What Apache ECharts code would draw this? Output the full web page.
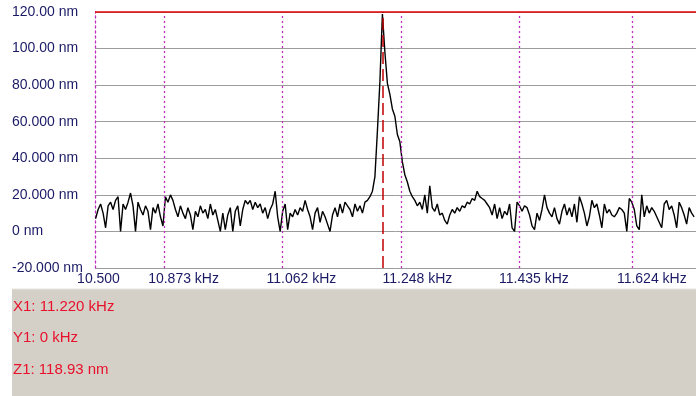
<!DOCTYPE html>
<html>
<head>
<meta charset="utf-8">
<script src="https://cdn.jsdelivr.net/npm/echarts@6/dist/echarts.min.js"></script>
<style>html,body{margin:0;padding:0;background:#fff;}#c{width:696px;height:396px;}</style>
</head>
<body>
<div id="c"></div>
<script>
// Sampling grid of the trace (kHz)
const freqStart = 10.760;
const freqStep = 0.004;
// Amplitude (nm)
const amplitudeNm = [
  7,12,15,10,2,14,16,12,17,19,
  0,15,12,16,21,14,0,16,12,9,
  14,11,1,13,10,15,8,3,19,16,
  20,17,12,8,14,10,7,13,9,1,
  11,8,14,10,12,7,15,9,12,6,
  0,10,1,9,13,0,11,14,3,12,
  17,15,17,12,16,13,15,10,13,7,
  12,15,22,8,0,11,15,1,10,8,
  12,9,13,11,17,12,8,1,10,13,
  5,11,8,4,0,9,13,8,15,10,
  16,14,12,8,15,11,14,10,16,17,
  19,22,30,55,82,118.93,98,81,75,67,
  63,53,49,38,31,27,22,19,17,14,
  16,12,20,10,25,13,11,15,9,10,
  6,4,9,12,10,13,11,14,13,16,
  15,18,17,22,19,18,17,15,13,9,
  15,7,13,7,11,9,15,2,0,16,
  14,11,14,13,9,3,1,10,6,12,
  20,13,10,8,13,7,4,11,15,9,
  13,8,15,5,19,15,10,3,8,17,
  13,15,9,2,15,10,12,9,8,10,
  13,12,10,0,18,16,12,3,1,20,
  8,14,10,13,11,8,5,2,15,17,
  12,14,9,2,16,13,9,4,13,10,
  8
];
const xMin = 10.759, xMax = 11.723;
const xTickValues = [10.759, 10.873, 11.062, 11.248, 11.435, 11.624];
const xTickLabels = ['10.500', '10.873 kHz', '11.062 kHz', '11.248 kHz', '11.435 kHz', '11.624 kHz'];
const xGridValues = [10.873, 11.062, 11.248, 11.435, 11.624];
const yTickValues = [-20, 0, 20, 40, 60, 80, 100, 120];
const yTickLabels = ['-20.000 nm', '0 nm', '20.000 nm', '40.000 nm', '60.000 nm', '80.000 nm', '100.00 nm', '120.00 nm'];
const cursorX = 11.220;   // kHz
const cursorY = 0;        // kHz
const cursorZ = 118.93;   // nm
const cursorLabels = ['X1: ' + cursorX.toFixed(3) + ' kHz', 'Y1: ' + cursorY + ' kHz', 'Z1: ' + cursorZ.toFixed(2) + ' nm'];

const seriesData = amplitudeNm.map((v, i) => [+(freqStart + i * freqStep).toFixed(4), v]);

const FONT = 'Liberation Sans';
const labelColor = '#1a1a66';
const magenta = '#c02fc0';

const chart = echarts.init(document.getElementById('c'), null, {renderer: 'canvas'});
chart.setOption({
  animation: false,
  backgroundColor: '#ffffff',
  grid: {left: 95, right: 0, top: 12, bottom: 128, containLabel: false},
  xAxis: {
    type: 'value', min: xMin, max: xMax,
    axisLine: {show: false},
    axisTick: {show: false},
    splitLine: {show: false},
    axisLabel: {
      customValues: xTickValues,
      margin: 4,
      color: labelColor,
      fontFamily: FONT,
      fontSize: 14,
      formatter: function (v) {
        let idx = 0, best = 1e9;
        xTickValues.forEach((t, i) => { const d = Math.abs(t - v); if (d < best) { best = d; idx = i; } });
        return idx === 0 ? '{s|' + xTickLabels[idx] + '}' : '{k|' + xTickLabels[idx] + '}';
      },
      rich: {
        s: {fontFamily: FONT, fontSize: 14, color: labelColor, padding: [0, 0, 0, 7]},
        k: {fontFamily: FONT, fontSize: 14, color: labelColor, padding: [0, 0, 0, 35]}
      }
    }
  },
  yAxis: {
    type: 'value', min: -20, max: 120, interval: 20,
    axisLine: {show: true, lineStyle: {color: magenta, width: 1.3, type: [2, 3]}},
    axisTick: {show: false},
    splitLine: {show: true, lineStyle: {color: '#9c9c9c', width: 1}},
    axisLabel: {
      align: 'left', margin: 83,
      color: labelColor, fontFamily: FONT, fontSize: 14,
      formatter: function (v) {
        const i = yTickValues.indexOf(Math.round(v));
        return i >= 0 ? yTickLabels[i] : '';
      }
    }
  },
  series: [{
    type: 'line',
    data: seriesData,
    showSymbol: false,
    symbol: 'none',
    lineStyle: {color: '#000000', width: 1.4},
    z: 3,
    markLine: {
      silent: true,
      symbol: ['none', 'none'],
      label: {show: false},
      animation: false,
      data: xGridValues.map(v => ({xAxis: v, lineStyle: {color: magenta, width: 1.3, type: [2, 3]}}))
        .concat([
          {yAxis: 120, lineStyle: {color: '#e00000', width: 1.5, type: 'solid'}},
          {xAxis: cursorX, lineStyle: {color: '#c00000', width: 1.5, type: [12, 5]}}
        ])
    }
  }],
  graphic: [
    {type: 'rect', left: 12, top: 289, shape: {width: 684, height: 107}, style: {fill: '#d4d0c8'}, z: 0},
    {type: 'line', shape: {x1: 12, y1: 289, x2: 696, y2: 289}, style: {stroke: '#e6e4de', lineWidth: 1}, z: 1},
    {type: 'text', left: 13, top: 299, style: {text: cursorLabels[0], fill: '#e8102a', font: '15px "Liberation Sans"'}, z: 2},
    {type: 'text', left: 13, top: 330, style: {text: cursorLabels[1], fill: '#e8102a', font: '15px "Liberation Sans"'}, z: 2},
    {type: 'text', left: 13, top: 362, style: {text: cursorLabels[2], fill: '#e8102a', font: '15px "Liberation Sans"'}, z: 2}
  ]
});
</script>
</body>
</html>
